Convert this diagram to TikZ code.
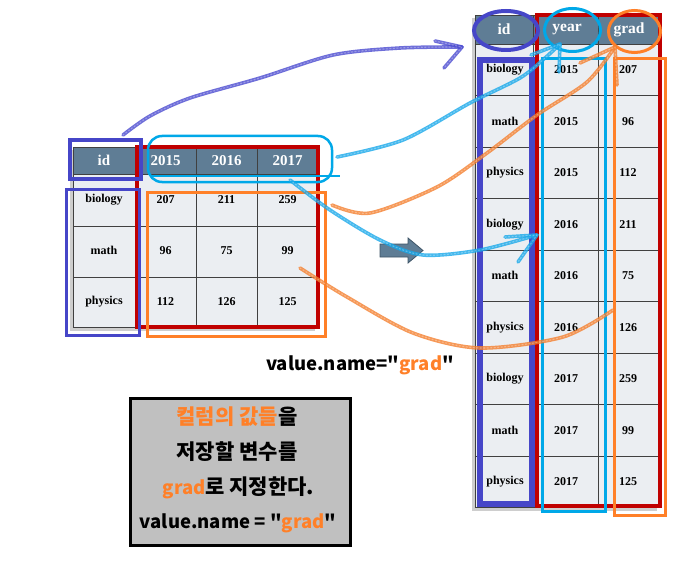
\documentclass[tikz,border=0pt]{standalone}
\usepackage{fontspec}
\setmainfont{Liberation Serif}
\newfontfamily\kr{Noto Sans CJK KR}
\definecolor{hdr}{HTML}{5F7D95}
\definecolor{hdrdark}{HTML}{3E5466}
\definecolor{cellbg}{HTML}{EBEEF2}
\definecolor{dblue}{HTML}{4646C8}
\definecolor{cyanb}{HTML}{00A8E8}
\definecolor{orng}{HTML}{FF8028}
\definecolor{dred}{HTML}{C00000}
\definecolor{boxgray}{HTML}{C0C0C0}
\definecolor{crayblue}{HTML}{4A4AD0}
\definecolor{craycyan}{HTML}{18A8EA}
\definecolor{crayorng}{HTML}{F47F2E}
\newcommand{\hg}[1]{{\fontsize{21}{24}\selectfont #1}}
\begin{document}
\begin{tikzpicture}[x=1pt,y=-1pt,
  cell/.style={font=\bfseries\fontsize{12}{14}\selectfont, inner sep=1pt},
  hcell/.style={font=\bfseries\fontsize{15}{17}\selectfont, text=white, inner sep=1pt},
  gridln/.style={draw=black!75, line width=0.9pt},
  shadowbox/.style={fill=black!35, opacity=0.55},
  crayon/.style={line width=3.6pt, line cap=round, line join=round, draw opacity=0.8,
    postaction={draw=white, draw opacity=0.3, line width=1.1pt, dash pattern=on 1.2pt off 2.3pt}},
  krtext/.style={font=\kr\bfseries\fontsize{18.5}{21}\selectfont, inner sep=0pt}
]
\useasboundingbox (0,0) rectangle (684,564);

% ---------------- left table ----------------
\fill[shadowbox] (70,150) rectangle (315,331);
\fill[hdr] (73,147) rectangle (318,174);
\fill[cellbg] (73,174) rectangle (318,327);
\draw[gridln] (73,147) rectangle (318,327);
\foreach \x in {135,196,257} \draw[gridln] (\x,147) -- (\x,327);
\foreach \y in {174,226,277} \draw[gridln] (73,\y) -- (318,\y);
\foreach \x/\t [count=\i] in {104/id,165.5/2015,226.5/2016,287.5/2017}
  \node[hcell] (lh\i) at (\x,160.5) {\t};
\foreach \nm/\a/\b/\c [count=\i, evaluate=\i as \yy using 174+(\i-0.5)*51] in
  {biology/207/211/259, math/96/75/99, physics/112/126/125}{
  \node[cell] (lid\i) at (104,\yy) {\nm};
  \node[cell] (la\i) at (165.5,\yy) {\a};
  \node[cell] (lb\i) at (226.5,\yy) {\b};
  \node[cell] (lc\i) at (287.5,\yy) {\c};
}

% overlays on left table
\draw[dred, line width=4pt] (137,147) rectangle (318,327);
\draw[dblue, line width=4pt] (70,140) rectangle (141,179);
\draw[dblue, line width=3pt] (66.5,189.5) rectangle (139.5,335.5);
\draw[cyanb, line width=2.5pt, rounded corners=14pt] (148,136) rectangle (332,182);
\draw[cyanb, line width=2.5pt] (150,176) -- (340,176);
\draw[orng, line width=3pt] (147.5,192.5) rectangle (325.5,336.5);

% ---------------- right table ----------------
\fill[shadowbox] (472,18) rectangle (657,511);
\fill[hdr] (475,15) rectangle (660,44);
\fill[cellbg] (475,44) rectangle (660,507.5);
\draw[gridln] (475,15) rectangle (660,507.5);
\foreach \x in {533,598} \draw[gridln] (\x,15) -- (\x,507.5);
\foreach \k in {0,...,8} \draw[gridln] (475,44+\k*51.5) -- (660,44+\k*51.5);
\foreach \x/\t [count=\i] in {504/id,567/year,629/grad}
  \node[hcell, font=\bfseries\fontsize{15.5}{17}\selectfont] (rh\i) at (\x,29.5) {\t};
\foreach \nm/\yr/\v [count=\i, evaluate=\i as \yy using 44+(\i-0.5)*51.5] in
  {biology/2015/207, math/2015/96, physics/2015/112,
   biology/2016/211, math/2016/75, physics/2016/126,
   biology/2017/259, math/2017/99, physics/2017/125}{
  \node[cell] (rid\i) at (505,\yy) {\nm};
  \node[cell] (ryr\i) at (566,\yy) {\yr};
  \node[cell] (rgd\i) at (628,\yy) {\v};
}

% overlays on right table
\draw[dred, line width=4pt] (537,15) rectangle (660,506);
\draw[dblue, line width=6pt] (480,60) rectangle (532,504);
\draw[cyanb, line width=3pt] (542.5,58.5) rectangle (605.5,511.5);
\draw[orng, line width=3pt] (614.5,58.5) rectangle (665.5,515.5);
\draw[dblue, line width=4pt] (506,30.5) ellipse [x radius=32, y radius=19.5];
\draw[cyanb, line width=3pt] (572.5,30) ellipse [x radius=28, y radius=21.5];
\draw[orng, line width=3pt] (634.5,31.5) ellipse [x radius=26, y radius=21];

% ---------------- block arrow ----------------
\draw[fill=hdr, draw=hdrdark, line width=0.8pt]
  (380,244) -- (408,244) -- (408,238) -- (423,250.5) -- (408,263) -- (408,257) -- (380,257) -- cycle;

% ---------------- crayon arrows ----------------
\coordinate (b0) at (123,135);
\coordinate (b1) at (462,47);
\coordinate (b1a) at (435,41);
\coordinate (b1b) at (444,68);
\draw[crayon, draw=crayblue] plot[smooth] coordinates {(b0) (150,116) (190,98) (260,78) (333,55) (400,48) (b1)};
\draw[crayon, draw=crayblue] (b1a) -- (b1) -- (b1b);

\coordinate (c0) at (337,157);
\coordinate (c1) at (560,44);
\coordinate (c1a) at (531,55);
\coordinate (c1b) at (559,72);
\draw[crayon, draw=craycyan] plot[smooth] coordinates {(c0) (403,140) (470,103) (520,78) (545,58) (c1)};
\draw[crayon, draw=craycyan] (c1a) -- (c1) -- (c1b);

\coordinate (o0) at (332,205);
\coordinate (o1) at (615,47);
\coordinate (o1a) at (580,63);
\coordinate (o1b) at (617,85);
\draw[crayon, draw=crayorng] plot[smooth] coordinates {(o0) (370,213) (437,187) (487,153) (537,115) (587,82) (o1)};
\draw[crayon, draw=crayorng] (o1a) -- (o1) -- (o1b);

\coordinate (d0) at (290,180);
\coordinate (d1) at (537,235);
\coordinate (d1a) at (505,237);
\coordinate (d1b) at (518,262);
\draw[crayon, draw=craycyan] plot[smooth] coordinates {(d0) (330,210) (380,240) (423,255) (480,250) (d1)};
\draw[crayon, draw=craycyan] (d1a) -- (d1) -- (d1b);

\coordinate (e0) at (300,268);
\coordinate (e1) at (613,310);
\draw[crayon, draw=crayorng] plot[smooth] coordinates {(e0) (347,297) (413,333) (480,348) (563,337) (e1)};

% ---------------- texts ----------------
\node[krtext] (vname) at (360,365) {value.name="\textcolor{orng}{grad}"};
\node[draw=black, line width=3pt, fill=boxgray, minimum width=220pt, minimum height=147pt, inner sep=0pt] (note) at (240.5,472) {};
\node[krtext] (n1) at (237,417) {\hg{\textcolor{orng}{컬럼의 값들}을}};
\node[krtext] (n2) at (237,452) {\hg{저장할 변수를}};
\node[krtext] (n3) at (238.5,488) {\textcolor{orng}{grad}\hg{로 지정한다.}};
\node[krtext] (n4) at (238,523) {value.name = "\textcolor{orng}{grad}"};
\end{tikzpicture}
\end{document}
